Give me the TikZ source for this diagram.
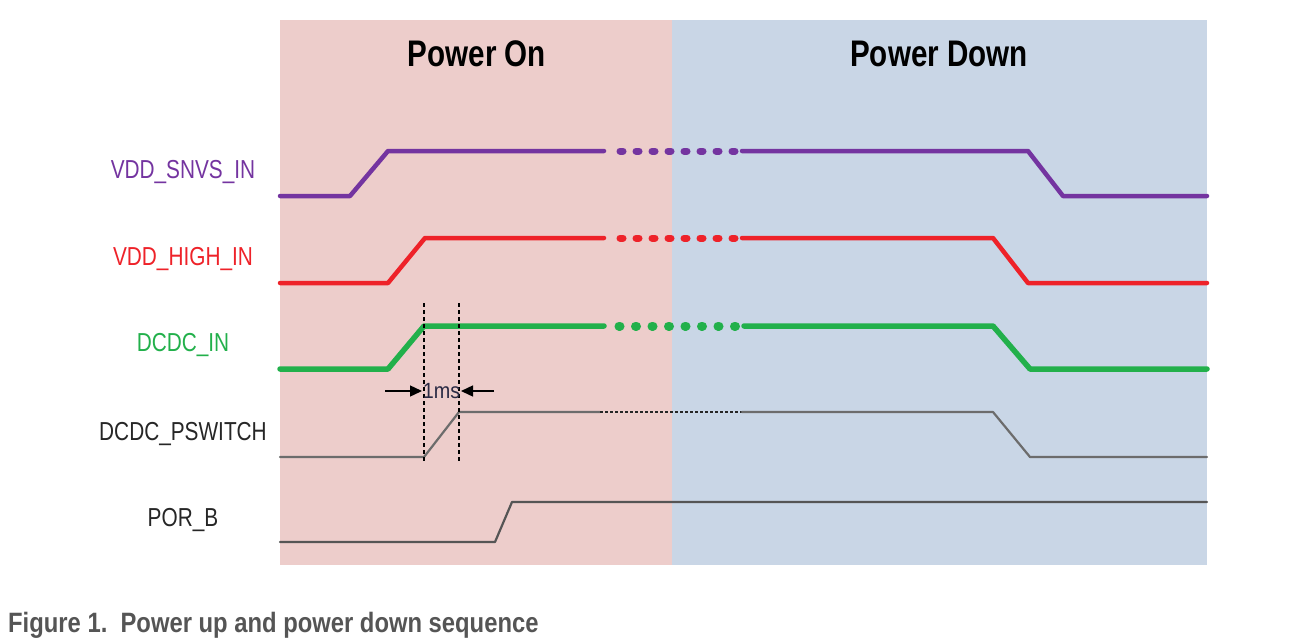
\documentclass[tikz,border=0pt]{standalone}
\usepackage{fontspec}
\newfontfamily\narrowfont[FakeStretch=0.8]{Liberation Sans}
\newfontfamily\capfont[FakeStretch=0.85]{Liberation Sans}
\newfontfamily\msfont[FakeStretch=0.9]{Liberation Sans}
\usetikzlibrary{arrows.meta}
\definecolor{pinkbg}{HTML}{EDCDCB}
\definecolor{bluebg}{HTML}{C9D6E6}
\definecolor{snvs}{HTML}{7434A0}
\definecolor{vhigh}{HTML}{EE2229}
\definecolor{dcdc}{HTML}{22B04B}
\definecolor{psw}{HTML}{6C6C6C}
\definecolor{porb}{HTML}{555555}
\definecolor{labeldark}{HTML}{262626}
\definecolor{capgray}{HTML}{555555}
\definecolor{msnavy}{HTML}{2A2A44}
\tikzset{
  sig/.style={line cap=round, line join=round},
  siglabel/.style={font=\narrowfont\fontsize{26}{30}\selectfont, anchor=center, inner sep=0pt},
  phase/.style={font=\narrowfont\bfseries\fontsize{37}{44}\selectfont, anchor=center, inner sep=0pt},
  marker/.style={black, line width=1.4pt, dash pattern=on 4pt off 3pt},
  msarrow/.style={black, line width=1.4pt, -{Triangle[length=12pt,width=11pt]}}
}
\begin{document}
\begin{tikzpicture}[x=1pt,y=-1pt]
\useasboundingbox (0,0) rectangle (1307,641);
% backgrounds
\fill[pinkbg] (280,20) rectangle (672,565);
\fill[bluebg] (672,20) rectangle (1207,565);
% phase titles
\node[phase] (on) at (477,54) {Power On};
\node[phase] (down) at (939,54) {Power Down};
% signal labels
\node[siglabel, text=snvs] (lsnvs) at (183,172) {VDD\_SNVS\_IN};
\node[siglabel, text=vhigh] (lhigh) at (183,259) {VDD\_HIGH\_IN};
\node[siglabel, text=dcdc] (ldcdc) at (183,345) {DCDC\_IN};
\node[siglabel, text=labeldark] (lpsw) at (183,434) {DCDC\_PSWITCH};
\node[siglabel, text=labeldark] (lpor) at (183,520) {POR\_B};
% VDD_SNVS_IN
\draw[sig, snvs, line width=4.5pt] (280,196) -- (350,196) -- (388,151) -- (604,151);
\draw[sig, snvs, line width=7pt, dash pattern=on 3pt off 13pt] (620,151) -- (736,151);
\draw[sig, snvs, line width=4.5pt] (742,151) -- (1028,151) -- (1063,196) -- (1207,196);
% VDD_HIGH_IN
\draw[sig, vhigh, line width=4.5pt] (280,283) -- (388,283) -- (425,238) -- (604,238);
\draw[sig, vhigh, line width=7pt, dash pattern=on 3pt off 13pt] (620,238) -- (736,238);
\draw[sig, vhigh, line width=4.5pt] (742,238) -- (993,238) -- (1028,283) -- (1207,283);
% DCDC_IN
\draw[sig, dcdc, line width=5.5pt] (280,369) -- (388,369) -- (424,326) -- (604,326);
\draw[sig, dcdc, line width=9pt, dash pattern=on 1pt off 15.5pt] (619,326) -- (736,326);
\draw[sig, dcdc, line width=5.5pt] (744,326) -- (993,326) -- (1030,369) -- (1207,369);
% DCDC_PSWITCH
\draw[sig, psw, line width=2.2pt] (280,457) -- (424,457) -- (459,412) -- (600,412);
\draw[labeldark, line width=2.4pt, dash pattern=on 3pt off 2pt] (600,412) -- (742,412);
\draw[sig, psw, line width=2.2pt] (742,412) -- (993,412) -- (1030,457) -- (1207,457);
% POR_B
\draw[sig, porb, line width=2.2pt] (280,542) -- (495,542) -- (512,502) -- (1207,502);
% 1ms markers
\coordinate (m1top) at (424,303);
\coordinate (m1bot) at (424,463);
\coordinate (m2top) at (459,303);
\coordinate (m2bot) at (459,463);
\draw[marker] (m1top) -- (m1bot);
\draw[marker] (m2top) -- (m2bot);
\node[font=\msfont\fontsize{22}{26}\selectfont, text=msnavy, inner sep=0pt] (ms) at (441.5,391) {1ms};
\coordinate (a1s) at (385,391);
\coordinate (a1e) at (422,391);
\coordinate (a2s) at (494,391);
\coordinate (a2e) at (461,391);
\draw[msarrow] (a1s) -- (a1e);
\draw[msarrow] (a2s) -- (a2e);
% caption
\node[font=\capfont\bfseries\fontsize{28}{33}\selectfont, text=capgray, anchor=west, inner sep=0pt] (cap) at (8,625) {Figure 1.\ \ Power up and power down sequence};
\end{tikzpicture}
\end{document}
